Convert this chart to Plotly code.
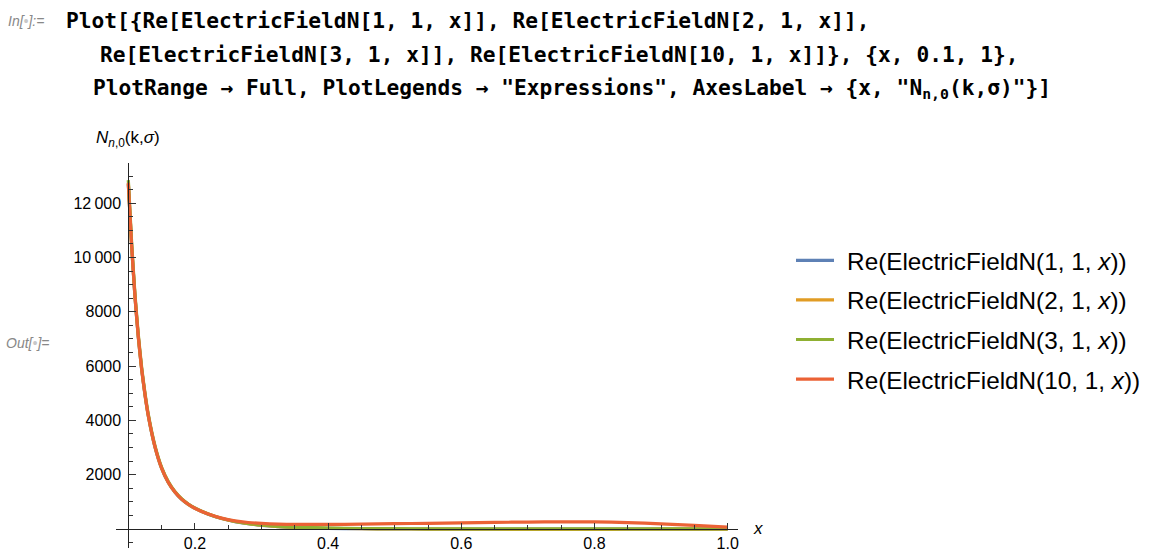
import plotly.graph_objects as go

# ---------------- data ----------------
x_vals = [0.100, 0.105, 0.110, 0.115, 0.120, 0.125, 0.130, 0.140, 0.150, 0.160,
          0.170, 0.180, 0.190, 0.200, 0.220, 0.240, 0.260, 0.280, 0.300, 0.325,
          0.350, 0.400, 0.450, 0.500, 0.550, 0.600, 0.650, 0.700, 0.750, 0.800,
          0.850, 0.900, 0.950, 1.000]

n1_vals = [12690, 10400, 8540, 7060, 5880, 4940, 4165, 3020, 2235, 1715,
           1355, 1095, 905, 760, 545, 385, 272, 192, 136, 86,
           57, 24, 10, 3, -2, -5, -7, -8, -8, -8,
           -7, -5, -3, -1]
n2_vals = [12710, 10420, 8555, 7070, 5890, 4950, 4170, 3025, 2240, 1718,
           1358, 1098, 908, 762, 548, 388, 275, 195, 139, 89,
           59, 26, 11, 4, -3, -7, -10, -12, -12, -12,
           -10, -8, -5, -2]
n3_vals = [12850, 10540, 8650, 7160, 5960, 5010, 4225, 3070, 2270, 1745,
           1380, 1115, 922, 775, 556, 395, 282, 202, 146, 96,
           66, 32, 18, 11, 8, 6, 5, 5, 5, 5,
           4, 3, 2, 0]
n10_vals = [12750, 10440, 8570, 7090, 5900, 4960, 4180, 3035, 2240, 1720,
            1360, 1100, 910, 765, 550, 400, 300, 240, 205, 180,
            168, 168, 180, 195, 210, 227, 243, 256, 265, 263,
            237, 192, 133, 70]

series_names = ["\u2004Re(ElectricFieldN(1, 1, <i>x</i>))",
                "\u2004Re(ElectricFieldN(2, 1, <i>x</i>))",
                "\u2004Re(ElectricFieldN(3, 1, <i>x</i>))",
                "\u2004Re(ElectricFieldN(10, 1, <i>x</i>))"]
series_colors = ["#5E81B5", "#E19C24", "#8FB032", "#EB6235"]

x_tick_vals = [0.2, 0.4, 0.6, 0.8, 1.0]
x_tick_text = ["0.2", "0.4", "0.6", "0.8", "1.0"]
x_minor_vals = [0.15, 0.25, 0.3, 0.35, 0.45, 0.5, 0.55, 0.65, 0.7, 0.75,
                0.85, 0.9, 0.95]
y_tick_vals = [2000, 4000, 6000, 8000, 10000, 12000]
y_tick_text = ["2000", "4000", "6000", "8000", "10\u2009000", "12\u2009000"]
y_minor_vals = [-500, 500, 1000, 1500, 2500, 3000, 3500, 4500, 5000, 5500,
                6500, 7000, 7500, 8500, 9000, 9500, 10500, 11000, 11500,
                12500, 13000]

code_lines = [
    "<b>Plot[{Re[ElectricFieldN[1, 1, x]], Re[ElectricFieldN[2, 1, x]],</b>",
    "<b>Re[ElectricFieldN[3, 1, x]], Re[ElectricFieldN[10, 1, x]]}, {x, 0.1, 1},</b>",
    "<b>PlotRange \u2192 Full, PlotLegends \u2192 \"Expressions\", AxesLabel \u2192 {x, \"N<sub>n,0</sub>(k,\u03c3)\"}]</b>",
]

# ---------------- layout geometry ----------------
W, H = 1152, 552
ML, MR, MT, MB = 116, 414, 163, 4
x_lo, x_hi = 0.0815, 1.0155
y_lo, y_hi = -700, 13480
PW, PH = W - ML - MR, H - MT - MB


def px(xp):
    return (xp - ML) / PW


def py(yp):
    return (H - MB - yp) / PH


fig = go.Figure()
series = [n1_vals, n2_vals, n3_vals, n10_vals]
for i, (vals, name, col) in enumerate(zip(series, series_names, series_colors)):
    fig.add_trace(go.Scatter(
        x=x_vals, y=vals, mode="lines", name=name,
        line=dict(color=col, width=3.2, shape="spline", smoothing=0.5),
        legendgroup=f"g{i}", hoverinfo="skip"))

sans = "Liberation Sans, Arial, sans-serif"
axis_font = dict(family=sans, size=16, color="#000")

fig.update_layout(
    width=W, height=H,
    margin=dict(l=ML, r=MR, t=MT, b=MB, pad=0, autoexpand=False),
    paper_bgcolor="white", plot_bgcolor="white",
    showlegend=True,
    legend=dict(
        x=px(791), y=py(320), xanchor="left", yanchor="middle",
        font=dict(family=sans, size=24.3, color="#000"),
        tracegroupgap=5, itemwidth=38, bgcolor="rgba(0,0,0,0)",
    ),
    xaxis=dict(
        range=[x_lo, x_hi], anchor="free", position=(0 - y_lo) / (y_hi - y_lo),
        showgrid=False, zeroline=False, showline=True, linecolor="#222", linewidth=1,
        tickmode="array", tickvals=x_tick_vals, ticktext=x_tick_text,
        ticks="inside", ticklen=6, tickwidth=1, tickcolor="#333",
        tickfont=axis_font, ticklabelstandoff=0, automargin=False,
        minor=dict(tickmode="array", tickvals=x_minor_vals, ticks="inside",
                   ticklen=4, tickwidth=1, tickcolor="#333", showgrid=False),
    ),
    yaxis=dict(
        range=[y_lo, y_hi], anchor="free", position=(0.1 - x_lo) / (x_hi - x_lo),
        showgrid=False, zeroline=False, showline=True, linecolor="#222", linewidth=1,
        tickmode="array", tickvals=y_tick_vals, ticktext=y_tick_text,
        ticks="inside", ticklen=7, tickwidth=1, tickcolor="#333",
        tickfont=axis_font, ticklabelstandoff=4, automargin=False,
        minor=dict(tickmode="array", tickvals=y_minor_vals, ticks="inside",
                   ticklen=4, tickwidth=1, tickcolor="#333", showgrid=False),
    ),
)

ann = []
# axes labels
ann.append(dict(text="<i>N</i><sub><i>n</i>,0</sub>(k,<i>\u03c3</i>)",
                xref="paper", yref="paper", x=(0.1 - x_lo) / (x_hi - x_lo), y=py(139),
                xanchor="center", yanchor="middle", showarrow=False,
                font=dict(family=sans, size=17, color="#000")))
ann.append(dict(text="<i>x</i>", xref="paper", yref="paper", x=px(758),
                y=(0 - y_lo) / (y_hi - y_lo), xanchor="center", yanchor="middle",
                showarrow=False, font=dict(family=sans, size=17, color="#000")))
# notebook cell labels
ann.append(dict(text="<i>In[<span style='color:#c8c8c8'>\u2022</span>]:=</i>",
                xref="paper", yref="paper", x=px(6), y=py(21), xanchor="left",
                yanchor="middle", showarrow=False,
                font=dict(family=sans, size=14, color="#888")))
ann.append(dict(text="<i>Out[<span style='color:#c8c8c8'>\u2022</span>]=</i>",
                xref="paper", yref="paper", x=px(4), y=py(343), xanchor="left",
                yanchor="middle", showarrow=False,
                font=dict(family=sans, size=14, color="#888")))
# input code
code_x = [64, 98, 91]
code_y = [20, 54, 89]
for t, cx, cy in zip(code_lines, code_x, code_y):
    ann.append(dict(text=t, xref="paper", yref="paper", x=px(cx), y=py(cy),
                    xanchor="left", yanchor="middle", showarrow=False,
                    font=dict(family="DejaVu Sans Mono, monospace", size=21.2, color="#000")))
fig.update_layout(annotations=ann)

fig.write_html("out.html")
